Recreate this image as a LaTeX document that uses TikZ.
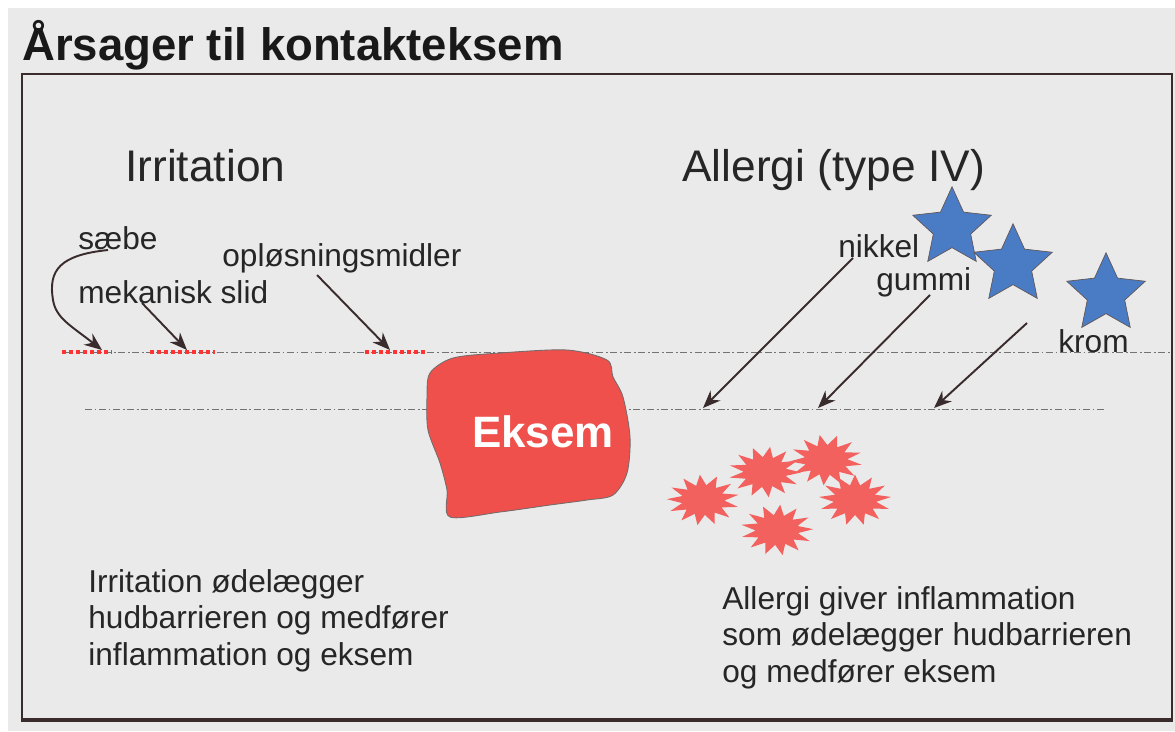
\documentclass[tikz,border=0pt]{standalone}
\usepackage{fontspec}
\setmainfont{Liberation Sans}
\usetikzlibrary{shapes.geometric, arrows.meta, positioning}
\definecolor{paper}{HTML}{EAEAEA}
\definecolor{eksemred}{HTML}{F0504C}
\definecolor{starblue}{HTML}{4A7CC6}
\definecolor{ink}{HTML}{3A2C2C}
\tikzstyle{txt} = [inner sep=0pt, anchor=base west, font=\fontsize{18}{20.7}\selectfont, text=black!85]
\tikzstyle{heading} = [inner sep=0pt, anchor=base west, font=\fontsize{25.2}{30}\selectfont, text=black!85]
\tikzstyle{arrow} = [draw=ink, line width=1.1pt, -{Stealth[length=10pt,width=8pt]}]
\tikzstyle{skinline} = [draw=black!55, line width=0.5pt, dash pattern=on 4pt off 1.5pt on 1pt off 1.5pt]
\tikzstyle{reddots} = [draw=red!80, line width=2pt, dash pattern=on 2pt off 2pt]
\tikzstyle{allergen} = [star, star points=5, star point ratio=2.1, minimum size=1.65cm, inner sep=0pt, fill=starblue, draw=ink!80, thin]
\tikzstyle{burst} = [star, star points=13, star point ratio=1.7, minimum size=1.45cm, inner sep=0pt, fill=eksemred!90, yscale=0.7, transform shape]

\begin{document}
\begin{tikzpicture}[x=0.02cm, y=-0.02cm]
    \useasboundingbox (0,0) rectangle (1175,731);
    \fill[white] (0,0) rectangle (1175,731);
    \fill[paper] (8,8) rectangle (1175,731);

    % title and frame
    \node (Title) [inner sep=0pt, anchor=base west, font=\fontsize{25.9}{30}\selectfont\bfseries, text=black!90] at (22,60) {Årsager til kontakteksem};
    \draw[ink, line width=0.9pt] (22,74) rectangle (1172,721);
    \draw[ink, line width=1.8pt] (22,720) -- (1172,720);

    % skin layers
    \coordinate (TopL) at (62,352);
    \coordinate (TopR) at (1170,352);
    \coordinate (LowL) at (85,409);
    \coordinate (LowR) at (1105,409);
    \draw[skinline] (TopL) -- (TopR);
    \draw[skinline] (LowL) -- (LowR);
    \draw[reddots] (62,352) -- (112,352);
    \draw[reddots] (150,352) -- (215,352);
    \draw[reddots] (365,352) -- (425,352);

    % headings
    \node (Irr) [heading] at (125,181) {Irritation};
    \node (All) [heading] at (682,181) {Allergi (type IV)};

    % irritants
    \node (Saebe) [txt] at (78,249) {sæbe};
    \node (Slid) [txt] at (78,303) {mekanisk slid};
    \node (Oplos) [txt] at (222,266) {opløsningsmidler};
    \coordinate (HitSaebe) at (102,350);
    \coordinate (HitSlid) at (187,350);
    \coordinate (HitOplos) at (390,350);
    \draw [arrow] (108,250) .. controls (60,255) and (48,270) .. (53,300) .. controls (56,318) and (70,325) .. (HitSaebe);
    \draw [arrow] (142,303) -- (HitSlid);
    \draw [arrow] (317,275) -- (HitOplos);

    % eksem
    \draw[ink!70, fill=eksemred, line width=0.5pt] plot[smooth cycle, tension=0.5] coordinates {
        (430,373) (453,358) (500,353) (567,350) (607,360) (613,377) (623,397) (630,437)
        (627,473) (613,495) (587,500) (550,505) (500,512) (450,517) (447,490) (440,463)
        (428,430) (427,397)};
    \node (Eksem) [inner sep=0pt, font=\fontsize{25}{30}\selectfont\bfseries, text=white] at (543,432) {Eksem};

    % allergens
    \node (Star1) [allergen] at (952,228) {};
    \node (Star2) [allergen] at (1013,265) {};
    \node (Star3) [allergen] at (1106,294) {};
    \node (Nikkel) [txt] at (838,257) {nikkel};
    \node (Gummi) [txt] at (876,290) {gummi};
    \node (Krom) [txt] at (1058,352) {krom};
    \coordinate (KromStart) at (1027,323);
    \coordinate (HitNikkel) at (703,408);
    \coordinate (HitGummi) at (818,408);
    \coordinate (HitKrom) at (934,408);
    \draw [arrow] (853,258) -- (HitNikkel);
    \draw [arrow] (930,295) -- (HitGummi);
    \draw [arrow] (KromStart) -- (HitKrom);

    % inflammation
    \node (Burst1) [burst, rotate=5] at (703,500) {};
    \node (Burst2) [burst, rotate=-8] at (765,472) {};
    \node (Burst3) [burst, rotate=10] at (826,460) {};
    \node (Burst4) [burst] at (855,500) {};
    \node (Burst5) [burst, rotate=-5] at (777,530) {};

    % explanations
    \node (IrrText) [txt, align=left] at (88,665) {Irritation ødelægger\\hudbarrieren og medfører\\inflammation og eksem};
    \node (AllText) [txt, align=left] at (722,682) {Allergi giver inflammation\\som ødelægger hudbarrieren\\og medfører eksem};
\end{tikzpicture}
\end{document}
